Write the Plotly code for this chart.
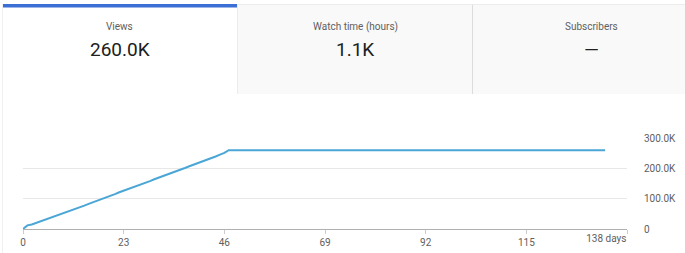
import plotly.graph_objects as go

# ---- data ----
days = [0, 1, 2, 3, 4, 5, 6, 7, 8, 9, 10, 11, 12, 13, 14, 15, 16, 17, 18, 19,
        20, 21, 22, 23, 24, 25, 26, 27, 28, 29, 30, 31, 32, 33, 34, 35, 36, 37,
        38, 39, 40, 41, 42, 43, 44, 45, 46, 47, 90, 133]
views = [0, 12000, 15000, 20000, 25000, 31000, 36000, 40000, 45000, 50000,
         55000, 61000, 67000, 72000, 77000, 83000, 88000, 93000, 99000, 105000,
         110000, 115000, 121000, 126000, 131000, 137000, 142000, 147000, 153000,
         158000, 164000, 169000, 174000, 180000, 185000, 191000, 196000, 201000,
         207000, 212000, 218000, 223000, 228000, 234000, 239000, 245000, 251000,
         260000, 260000, 260000]

x_tick_vals = [0, 23, 46, 69, 92, 115]
x_tick_text = ["0", "23", "46", "69", "92", "115"]
x_last_val = [138]
x_last_text = ["138 days"]
y_tick_vals = [0, 100000, 200000, 300000]
y_tick_text = ["0", "100.0K", "200.0K", "300.0K"]

card_titles = ["Views", "Watch time (hours)", "Subscribers"]
card_values = ["260.0K", "1.1K", "—"]

# ---- layout geometry (pixels) ----
W, H = 685, 253
L, R, T, B = 23, 627, 138, 229


def px(p):
    return (p - L) / (R - L)


def py(p):
    return (B - p) / (B - T)


FONT = "Roboto, Arial, sans-serif"

fig = go.Figure()
fig.add_trace(go.Scatter(x=days, y=views, mode="lines",
                         line=dict(color="#4aa6d6", width=2),
                         hoverinfo="skip", showlegend=False))
# invisible trace on xaxis2 so it renders
fig.add_trace(go.Scatter(x=[138], y=[0], xaxis="x2", mode="markers",
                         marker=dict(opacity=0), hoverinfo="skip", showlegend=False))

shapes = []
# left faint border
shapes.append(dict(type="line", xref="paper", yref="paper", x0=px(2.5), x1=px(2.5),
                   y0=py(4), y1=py(253), line=dict(color="#f0f0f0", width=1), layer="below"))
# tab 2 and 3 gray backgrounds
shapes.append(dict(type="rect", xref="paper", yref="paper", x0=px(237), x1=px(473),
                   y0=py(94), y1=py(4), fillcolor="#f9f9f9",
                   line=dict(width=0), layer="below"))
shapes.append(dict(type="rect", xref="paper", yref="paper", x0=px(473), x1=px(686),
                   y0=py(94), y1=py(4), fillcolor="#f9f9f9",
                   line=dict(width=0), layer="below"))
# separators
shapes.append(dict(type="line", xref="paper", yref="paper", x0=px(237.5), x1=px(237.5),
                   y0=py(94), y1=py(4), line=dict(color="#ececec", width=1), layer="below"))
shapes.append(dict(type="line", xref="paper", yref="paper", x0=px(472.5), x1=px(472.5),
                   y0=py(94), y1=py(4), line=dict(color="#dcdcdc", width=1), layer="below"))
shapes.append(dict(type="line", xref="paper", yref="paper", x0=px(237), x1=px(686),
                   y0=py(4.5), y1=py(4.5), line=dict(color="#ececec", width=1), layer="below"))
# blue bar on active tab
shapes.append(dict(type="rect", xref="paper", yref="paper", x0=px(3), x1=px(237),
                   y0=py(7.5), y1=py(4), fillcolor="#3c6fd6",
                   line=dict(width=0), layer="below"))

annotations = []
centers = [120, 355, 591]
for c, t, v in zip(centers, card_titles, card_values):
    annotations.append(dict(x=px(c), y=py(27), xref="paper", yref="paper", text=t,
                            showarrow=False, xanchor="center", yanchor="middle",
                            font=dict(family=FONT, size=10, color="#606060")))
    annotations.append(dict(x=px(c), y=py(49), xref="paper", yref="paper", text=v,
                            showarrow=False, xanchor="center", yanchor="middle",
                            font=dict(family=FONT, size=19, color="#202020")))

fig.update_layout(
    width=W, height=H,
    margin=dict(l=L, r=W - R, t=T, b=H - B, pad=0, autoexpand=False),
    paper_bgcolor="white", plot_bgcolor="white",
    shapes=shapes, annotations=annotations,
    xaxis=dict(range=[0, 138], tickvals=x_tick_vals, ticktext=x_tick_text,
               showgrid=False, zeroline=False, showline=True, linecolor="#b0b0b0",
               linewidth=1, ticks="outside", ticklen=4, tickcolor="#cccccc",
               automargin=False,
               tickfont=dict(family=FONT, size=10, color="#606060"), fixedrange=True),
    xaxis2=dict(range=[0, 138], overlaying="x", anchor="y", side="bottom",
                tickvals=x_last_val, ticktext=x_last_text,
                ticklabelposition="outside left", automargin=False,
                showgrid=False, zeroline=False, showline=False,
                ticks="outside", ticklen=4, tickcolor="#cccccc",
                tickfont=dict(family=FONT, size=10, color="#606060")),
    yaxis=dict(range=[0, 300000], tickvals=y_tick_vals, ticktext=y_tick_text,
               side="right", showgrid=True, gridcolor="#e8e8e8", gridwidth=1,
               zeroline=False, showline=False, ticks="", ticklabelstandoff=16,
               automargin=False,
               tickfont=dict(family=FONT, size=10, color="#606060"), fixedrange=True),
)

fig.write_html("out.html", config={"displayModeBar": False},
               post_script="document.body.style.margin='0';document.body.style.padding='0';")
